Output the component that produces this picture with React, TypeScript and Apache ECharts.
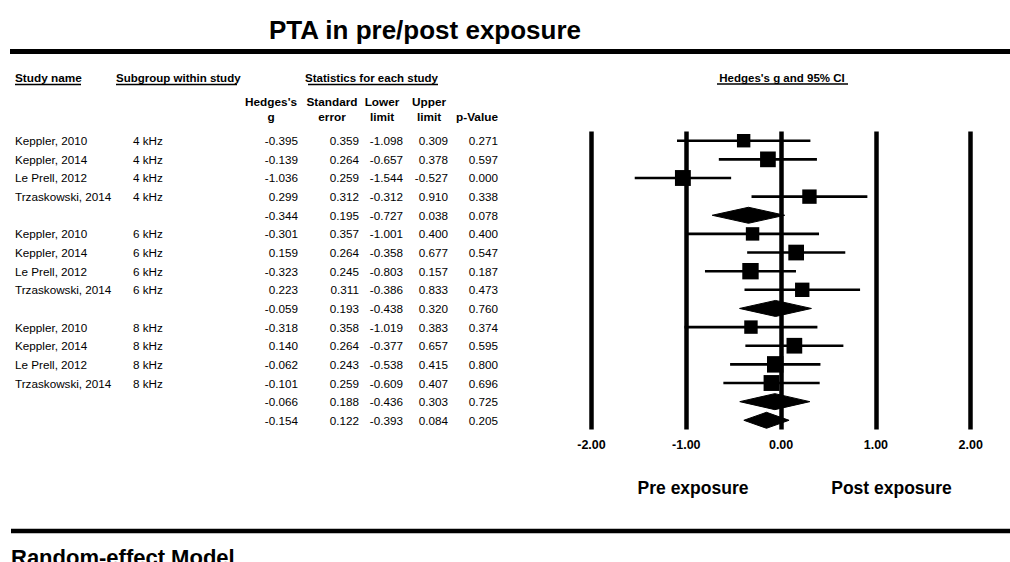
import React, { useEffect, useRef } from "react";
import * as echarts from "echarts";

const studies = [
  "Keppler, 2010", "Keppler, 2014", "Le Prell, 2012", "Trzaskowski, 2014", "",
  "Keppler, 2010", "Keppler, 2014", "Le Prell, 2012", "Trzaskowski, 2014", "",
  "Keppler, 2010", "Keppler, 2014", "Le Prell, 2012", "Trzaskowski, 2014", "", "",
];
const subgroups = [
  "4 kHz", "4 kHz", "4 kHz", "4 kHz", "",
  "6 kHz", "6 kHz", "6 kHz", "6 kHz", "",
  "8 kHz", "8 kHz", "8 kHz", "8 kHz", "", "",
];
const hedgesG = [-0.395, -0.139, -1.036, 0.299, -0.344, -0.301, 0.159, -0.323, 0.223, -0.059, -0.318, 0.14, -0.062, -0.101, -0.066, -0.154];
const stdErr = [0.359, 0.264, 0.259, 0.312, 0.195, 0.357, 0.264, 0.245, 0.311, 0.193, 0.358, 0.264, 0.243, 0.259, 0.188, 0.122];
const lowerLimit = [-1.098, -0.657, -1.544, -0.312, -0.727, -1.001, -0.358, -0.803, -0.386, -0.438, -1.019, -0.377, -0.538, -0.609, -0.436, -0.393];
const upperLimit = [0.309, 0.378, -0.527, 0.91, 0.038, 0.4, 0.677, 0.157, 0.833, 0.32, 0.383, 0.657, 0.415, 0.407, 0.303, 0.084];
const pValue = [0.271, 0.597, 0.0, 0.338, 0.078, 0.4, 0.547, 0.187, 0.473, 0.76, 0.374, 0.595, 0.8, 0.696, 0.725, 0.205];

const FONT = '"Liberation Sans", Arial, sans-serif';

function txt(text: string, x: number, y: number, size: number, weight: string, align: string, extra: any = {}) {
  return {
    type: "text",
    x,
    y,
    silent: true,
    style: {
      text,
      fill: "#000",
      font: `${weight} ${size}px ${FONT}`,
      fontSize: size,
      fontWeight: weight,
      fontFamily: FONT,
      align,
      textAlign: align,
      verticalAlign: "middle",
      textVerticalAlign: "middle",
      ...extra,
    },
  };
}

function hline(x1: number, x2: number, y: number, w: number) {
  return {
    type: "line",
    silent: true,
    shape: { x1, y1: y, x2, y2: y },
    style: { stroke: "#000", lineWidth: w },
  };
}

export default function App() {
  const ref = useRef<HTMLDivElement>(null);
  useEffect(() => {
    if (!ref.current) return;
    const chart = echarts.init(ref.current, null, { renderer: "svg" });
    const rows = hedgesG.map((g, i) => [g, i, lowerLimit[i], upperLimit[i], stdErr[i], studies[i] === "" ? 1 : 0]);
    const fmt = (v: number) => v.toFixed(3);
    const TS = 11.7;

    const option: any = {
      animation: false,
      backgroundColor: "#fff",
      grid: { left: 591.5, right: 39.3, top: 131.4, bottom: 132.4, containLabel: false },
      xAxis: {
        type: "value",
        min: -2,
        max: 2,
        interval: 1,
        axisLine: { show: false },
        axisTick: { show: false },
        axisLabel: {
          formatter: (v: number) => v.toFixed(2),
          color: "#000",
          fontWeight: "bold",
          fontSize: 12.5,
          fontFamily: FONT,
          margin: 9,
          showMinLabel: true,
          showMaxLabel: true,
        },
        splitLine: { show: true, showMinLine: true, showMaxLine: true, lineStyle: { color: "#000", width: 4.5 } },
      },
      yAxis: { type: "value", min: -0.5, max: 15.5, inverse: true, show: false },
      series: [
        {
          type: "custom",
          name: "forest",
          clip: false,
          encode: { x: [0, 2, 3], y: 1 },
          data: rows,
          renderItem: (params: any, api: any) => {
            const g = api.value(0);
            const r = api.value(1);
            const lo = api.value(2);
            const up = api.value(3);
            const se = api.value(4);
            const summary = api.value(5);
            const pg = api.coord([g, r]);
            const pl = api.coord([lo, r]);
            const pu = api.coord([up, r]);
            const y = pg[1];
            if (summary) {
              return {
                type: "polygon",
                shape: { points: [[pl[0], y], [pg[0], y - 8], [pu[0], y], [pg[0], y + 8]] },
                style: { fill: "#000", stroke: "#000", lineWidth: 1 },
              };
            }
            const s = 7 + 2.3 / se;
            return {
              type: "group",
              children: [
                { type: "line", shape: { x1: pl[0], y1: y, x2: pu[0], y2: y }, style: { stroke: "#000", lineWidth: 2.6 } },
                { type: "rect", shape: { x: pg[0] - s / 2, y: y - s / 2, width: s, height: s }, style: { fill: "#000" } },
              ],
            };
          },
          z: 5,
        },
        {
          type: "custom",
          name: "table",
          clip: false,
          data: hedgesG.map((_, i) => [0, i]),
          encode: { x: 0, y: 1 },
          renderItem: (params: any, api: any) => {
            const i = params.dataIndex;
            const y = api.coord([0, api.value(1)])[1];
            const cells: any[] = [
              txt(fmt(hedgesG[i]), 298, y, TS, "normal", "right"),
              txt(fmt(stdErr[i]), 359, y, TS, "normal", "right"),
              txt(fmt(lowerLimit[i]), 403, y, TS, "normal", "right"),
              txt(fmt(upperLimit[i]), 448, y, TS, "normal", "right"),
              txt(fmt(pValue[i]), 498, y, TS, "normal", "right"),
            ];
            if (studies[i]) cells.push(txt(studies[i], 15, y, TS, "normal", "left"));
            if (subgroups[i]) cells.push(txt(subgroups[i], 133, y, TS, "normal", "left"));
            return { type: "group", children: cells };
          },
        },
      ],
      graphic: [
        txt("PTA in pre/post exposure", 425, 29.5, 26, "bold", "center"),
        hline(10, 1010, 51.5, 5),
        txt("Study name", 15, 78, 11.8, "bold", "left"),
        hline(15, 81, 84.5, 1.3),
        txt("Subgroup within study", 116, 78, 11.5, "bold", "left"),
        hline(116, 237, 84.5, 1.3),
        txt("Statistics for each study", 305, 78, 11.5, "bold", "left"),
        hline(308, 438, 84.5, 1.3),
        txt("Hedges's g and 95% CI", 782, 77.5, 11.5, "bold", "center"),
        hline(717, 848, 84, 1.3),
        txt("Hedges's", 271, 102, 11.8, "bold", "center"),
        txt("g", 271, 117, 11.8, "bold", "center"),
        txt("Standard", 332, 102, 11.8, "bold", "center"),
        txt("error", 332, 117, 11.8, "bold", "center"),
        txt("Lower", 382, 102, 11.8, "bold", "center"),
        txt("limit", 382, 117, 11.8, "bold", "center"),
        txt("Upper", 429, 102, 11.8, "bold", "center"),
        txt("limit", 429, 117, 11.8, "bold", "center"),
        txt("p-Value", 477, 117, 11.8, "bold", "center"),
        txt("Pre exposure", 693, 487.5, 17.5, "bold", "center"),
        txt("Post exposure", 891.5, 487.5, 17.5, "bold", "center"),
        hline(11, 1010, 531, 4.5),
        txt("Random-effect Model", 11, 557, 22, "bold", "left"),
      ],
    };
    chart.setOption(option);
    return () => chart.dispose();
  }, []);
  return (
    <div
      ref={ref}
      style={{ position: "fixed", left: 0, top: 0, width: 1010, height: 562, background: "#fff" }}
    />
  );
}
